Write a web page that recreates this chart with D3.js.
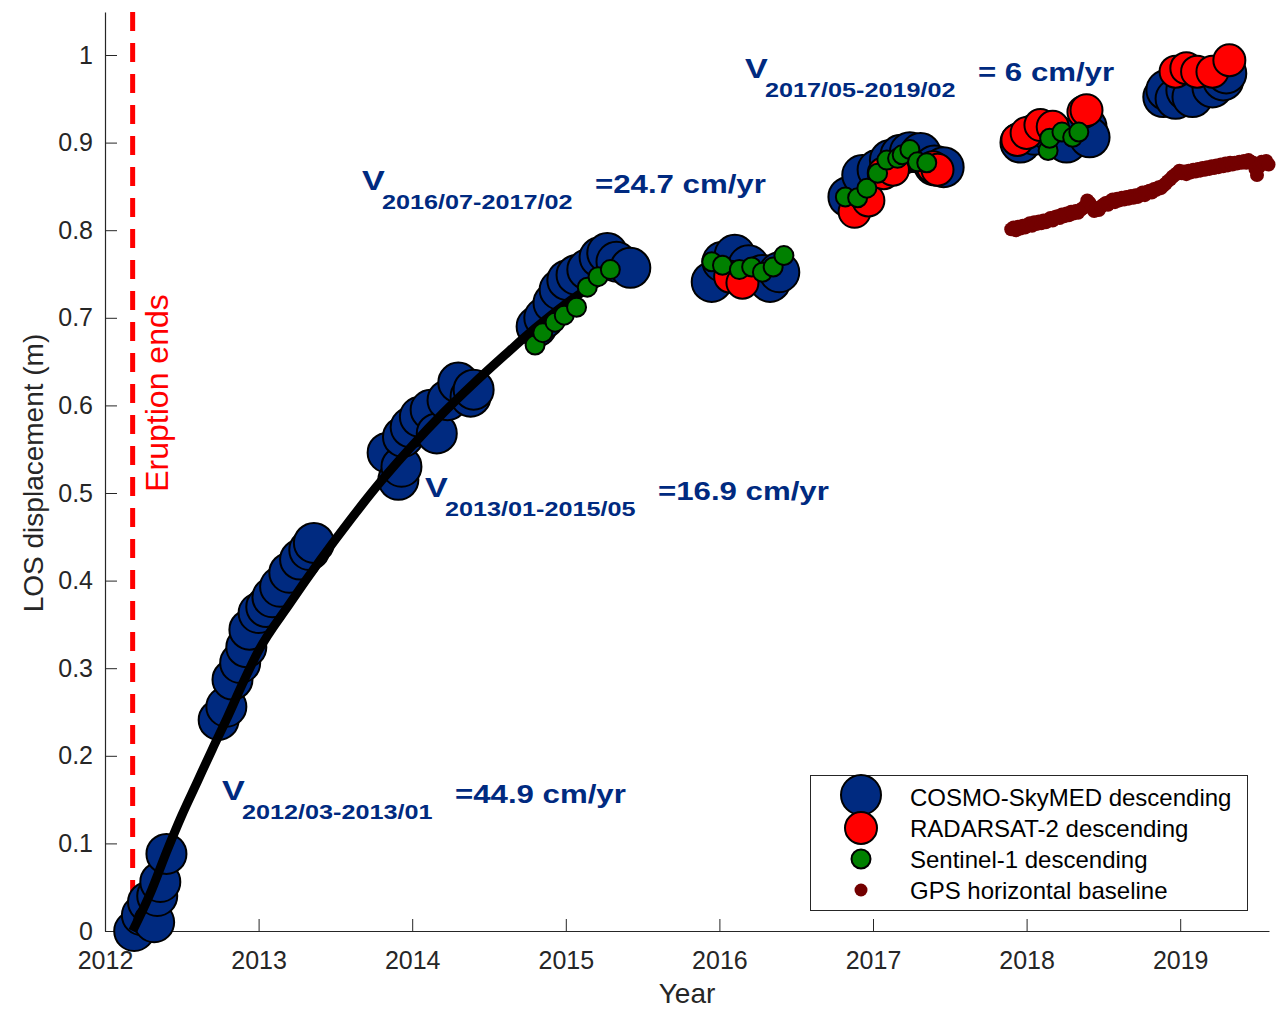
<!DOCTYPE html>
<html>
<head>
<meta charset="utf-8">
<script src="https://cdn.jsdelivr.net/npm/d3@7"></script>
<style>
  html, body { margin: 0; padding: 0; background: #fff; }
  svg { display: block; font-family: "Liberation Sans", Arial, Helvetica, sans-serif; }
</style>
</head>
<body>
<svg id="chart" width="1276" height="1011"></svg>
<script>
// ---------------- DATA ----------------
const xTicks = [2012, 2013, 2014, 2015, 2016, 2017, 2018, 2019];
const yTicks = [0, 0.1, 0.2, 0.3, 0.4, 0.5, 0.6, 0.7, 0.8, 0.9, 1];

const eruptionEndYear = 2012.18;

const cosmoYear = [
  2012.19, 2012.24, 2012.28, 2012.32, 2012.34, 2012.36, 2012.40,
  2012.74, 2012.79, 2012.83, 2012.88, 2012.92, 2012.94, 2013.00, 2013.05, 2013.09, 2013.14, 2013.20, 2013.27, 2013.33, 2013.36,
  2013.84, 2013.91, 2013.93, 2013.94, 2013.99, 2014.05, 2014.12, 2014.16, 2014.23, 2014.30, 2014.38, 2014.40,
  2014.81, 2014.86, 2014.92, 2014.96, 2015.01, 2015.07, 2015.14, 2015.22, 2015.27, 2015.33, 2015.42,
  2015.95, 2016.02, 2016.10, 2016.19, 2016.28, 2016.33, 2016.39,
  2016.84, 2016.93, 2017.03, 2017.11, 2017.18, 2017.24, 2017.31, 2017.40, 2017.46,
  2017.96, 2018.05, 2018.17, 2018.26, 2018.39, 2018.41,
  2018.89, 2018.91, 2018.97, 2019.04, 2019.08, 2019.21, 2019.28, 2019.30
];
const cosmoDisp = [
  0.000, 0.018, 0.033, 0.010, 0.040, 0.056, 0.088,
  0.241, 0.256, 0.287, 0.306, 0.324, 0.344, 0.363, 0.370, 0.381, 0.393, 0.409, 0.424, 0.435, 0.443,
  0.546, 0.515, 0.530, 0.564, 0.575, 0.587, 0.595, 0.568, 0.606, 0.626, 0.610, 0.618,
  0.690, 0.700, 0.717, 0.732, 0.743, 0.749, 0.755, 0.769, 0.774, 0.764, 0.757,
  0.741, 0.764, 0.772, 0.760, 0.749, 0.741, 0.752,
  0.838, 0.863, 0.869, 0.880, 0.886, 0.889, 0.888, 0.874, 0.872,
  0.900, 0.909, 0.911, 0.900, 0.918, 0.906,
  0.952, 0.960, 0.950, 0.960, 0.952, 0.963, 0.971, 0.979
];

const radarsatYear = [
  2016.07, 2016.15,
  2016.88, 2016.97, 2017.07, 2017.13, 2017.39, 2017.42,
  2017.94, 2018.00, 2018.09, 2018.17, 2018.37, 2018.39,
  2018.97, 2019.04, 2019.11, 2019.21, 2019.32
];
const radarsatDisp = [
  0.747, 0.740,
  0.821, 0.834, 0.865, 0.869, 0.872, 0.869,
  0.903, 0.911, 0.920, 0.918, 0.935, 0.937,
  0.981, 0.985, 0.981, 0.981, 0.994
];

const sentinelYear = [
  2014.80, 2014.85, 2014.93, 2014.99, 2015.07, 2015.14, 2015.21, 2015.29,
  2015.95, 2016.02, 2016.13, 2016.21, 2016.28, 2016.35, 2016.42,
  2016.82, 2016.90, 2016.96, 2017.03, 2017.09, 2017.16, 2017.19, 2017.24, 2017.29, 2017.35,
  2018.14, 2018.15, 2018.23, 2018.30, 2018.34
];
const sentinelDisp = [
  0.669, 0.683, 0.695, 0.703, 0.712, 0.735, 0.747, 0.755,
  0.764, 0.760, 0.755, 0.758, 0.752, 0.758, 0.771,
  0.838, 0.837, 0.848, 0.865, 0.880, 0.882, 0.886, 0.892, 0.878, 0.877,
  0.891, 0.905, 0.912, 0.906, 0.912
];

const gpsYear = [
  2017.900, 2017.915, 2017.930, 2017.945, 2017.960, 2017.975, 2017.990, 2018.005, 2018.020, 2018.035,
  2018.050, 2018.065, 2018.080, 2018.095, 2018.110, 2018.125, 2018.140, 2018.155, 2018.170, 2018.185,
  2018.200, 2018.215, 2018.230, 2018.245, 2018.260, 2018.275, 2018.290, 2018.305, 2018.320, 2018.335,
  2018.350, 2018.365, 2018.380, 2018.395, 2018.410, 2018.425, 2018.440, 2018.455, 2018.470, 2018.485,
  2018.500, 2018.515, 2018.530, 2018.545, 2018.560, 2018.575, 2018.590, 2018.605, 2018.620, 2018.635,
  2018.650, 2018.665, 2018.680, 2018.695, 2018.710, 2018.725, 2018.740, 2018.755, 2018.770, 2018.785,
  2018.800, 2018.815, 2018.830, 2018.845, 2018.860, 2018.875, 2018.890, 2018.905, 2018.920, 2018.935,
  2018.950, 2018.965, 2018.980, 2018.995, 2019.010, 2019.025, 2019.040, 2019.055, 2019.070, 2019.085,
  2019.100, 2019.115, 2019.130, 2019.145, 2019.160, 2019.175, 2019.190, 2019.205, 2019.220, 2019.235,
  2019.250, 2019.265, 2019.280, 2019.295, 2019.310, 2019.325, 2019.340, 2019.355, 2019.370, 2019.385,
  2019.400, 2019.415, 2019.430, 2019.445, 2019.460, 2019.475, 2019.490, 2019.500, 2019.515, 2019.530,
  2019.545, 2019.560, 2019.575
];
const gpsDisp = [
  0.801, 0.803, 0.800, 0.804, 0.802, 0.805, 0.803, 0.806, 0.808, 0.805,
  0.809, 0.807, 0.810, 0.808, 0.811, 0.809, 0.812, 0.814, 0.811, 0.815,
  0.816, 0.814, 0.818, 0.816, 0.819, 0.817, 0.821, 0.819, 0.822, 0.820,
  0.823, 0.825, 0.827, 0.834, 0.831, 0.826, 0.822, 0.825, 0.823, 0.827,
  0.829, 0.831, 0.829, 0.833, 0.835, 0.832, 0.836, 0.834, 0.837, 0.835,
  0.838, 0.836, 0.839, 0.837, 0.840, 0.838, 0.841, 0.843, 0.840, 0.844,
  0.845, 0.843, 0.847, 0.846, 0.849, 0.848, 0.851, 0.853, 0.856, 0.858,
  0.861, 0.863, 0.865, 0.868, 0.865, 0.867, 0.864, 0.868, 0.866, 0.869,
  0.867, 0.870, 0.868, 0.871, 0.869, 0.872, 0.870, 0.873, 0.871, 0.874,
  0.872, 0.875, 0.873, 0.876, 0.874, 0.877, 0.875, 0.877, 0.876, 0.878,
  0.877, 0.879, 0.877, 0.880, 0.878, 0.877, 0.870, 0.863, 0.873, 0.878,
  0.876, 0.879, 0.875
];

const fitYear = [2012.18, 2012.30, 2012.40, 2012.50, 2012.60, 2012.70, 2012.80, 2012.90, 2013.00, 2013.20,
                 2013.40, 2013.60, 2013.80, 2014.00, 2014.20, 2014.40, 2014.60, 2014.80, 2015.00, 2015.20];
const fitDisp = [0.000, 0.045, 0.090, 0.132, 0.170, 0.208, 0.245, 0.284, 0.320, 0.373,
                 0.423, 0.470, 0.514, 0.554, 0.591, 0.625, 0.657, 0.688, 0.716, 0.740];

const legendLabels = ["COSMO-SkyMED descending", "RADARSAT-2 descending", "Sentinel-1 descending", "GPS horizontal baseline"];

const velPeriods = ["2012/03-2013/01", "2013/01-2015/05", "2016/07-2017/02", "2017/05-2019/02"];
const velValues = ["=44.9 cm/yr", "=16.9 cm/yr", "=24.7 cm/yr", "= 6 cm/yr"];

// ---------------- LAYOUT ----------------
const svg = d3.select("#chart");
const axisColor = "#262626";
const navy = "#002a80";
const x = d3.scaleLinear().domain([2012, 2012 + (1269 - 105) / 153.6]).range([105, 1269]);
const y = d3.scaleLinear().domain([0, (931 - 12) / 876]).range([931, 12]);

// axes
const xAxis = svg.append("g").attr("transform", `translate(0,${y(0)})`)
  .call(d3.axisBottom(x).tickValues(xTicks).tickFormat(d3.format("d")).tickSizeInner(-12).tickSizeOuter(0).tickPadding(20));
const yAxis = svg.append("g").attr("transform", `translate(${x(2012)},0)`)
  .call(d3.axisLeft(y).tickValues(yTicks).tickFormat(d => d === 0 ? "0" : d === 1 ? "1" : d3.format(".1f")(d)).tickSizeInner(-12).tickSizeOuter(0).tickPadding(12));
[xAxis, yAxis].forEach(a => {
  a.select(".domain").attr("stroke", axisColor).attr("stroke-width", 1.2);
  a.selectAll(".tick line").attr("stroke", axisColor).attr("stroke-width", 1);
  a.selectAll(".tick text").attr("fill", axisColor).attr("font-size", 25).attr("font-family", "Liberation Sans, Arial, sans-serif");
});

// axis titles
svg.append("text").attr("x", 687).attr("y", 1003).attr("text-anchor", "middle")
  .attr("font-size", 28).attr("fill", axisColor).text("Year");
svg.append("text").attr("transform", `translate(43,${473}) rotate(-90)`).attr("text-anchor", "middle")
  .attr("font-size", 28).attr("fill", axisColor).text("LOS displacement (m)");

// eruption line
svg.append("line").attr("x1", x(eruptionEndYear)).attr("x2", x(eruptionEndYear))
  .attr("y1", y(y.domain()[1])).attr("y2", y(0))
  .attr("stroke", "#ff0000").attr("stroke-width", 5).attr("stroke-dasharray", "19,12");
svg.append("text").attr("transform", `translate(${x(eruptionEndYear) + 35},${393}) rotate(-90)`)
  .attr("text-anchor", "middle").attr("font-size", 32).attr("fill", "#ff0000").text("Eruption ends");

// series
function pts(xs, ys) { return xs.map((v, i) => ({ t: v, d: ys[i] })); }

const gCosmo = svg.append("g");
gCosmo.selectAll("circle").data(pts(cosmoYear, cosmoDisp)).join("circle")
  .attr("cx", p => x(p.t)).attr("cy", p => y(p.d)).attr("r", 20)
  .attr("fill", navy).attr("stroke", "#000").attr("stroke-width", 2);

const gRadar = svg.append("g");
gRadar.selectAll("circle").data(pts(radarsatYear, radarsatDisp)).join("circle")
  .attr("cx", p => x(p.t)).attr("cy", p => y(p.d)).attr("r", 16)
  .attr("fill", "#ff0000").attr("stroke", "#000").attr("stroke-width", 2);

svg.append("path").datum(pts(fitYear, fitDisp))
  .attr("d", d3.line().x(p => x(p.t)).y(p => y(p.d)).curve(d3.curveMonotoneX))
  .attr("fill", "none").attr("stroke", "#000").attr("stroke-width", 9).attr("stroke-linecap", "butt");

const gSent = svg.append("g");
gSent.selectAll("circle").data(pts(sentinelYear, sentinelDisp)).join("circle")
  .attr("cx", p => x(p.t)).attr("cy", p => y(p.d)).attr("r", 9.5)
  .attr("fill", "#008000").attr("stroke", "#000").attr("stroke-width", 2);

const gGps = svg.append("g");
gGps.selectAll("circle").data(pts(gpsYear, gpsDisp)).join("circle")
  .attr("cx", p => x(p.t)).attr("cy", p => y(p.d)).attr("r", 7)
  .attr("fill", "#730000");

// velocity annotations (anchor of the "V")
const annAnchor = [[222, 800], [425, 497], [362, 190], [745, 78]];
velPeriods.forEach((per, i) => {
  const [ax, ay] = annAnchor[i];
  const g = svg.append("g").attr("fill", navy).attr("font-weight", "bold");
  g.append("text").attr("transform", `translate(${ax},${ay}) scale(1.22,1)`).attr("font-size", 28).text("V");
  g.append("text").attr("transform", `translate(${ax + 20},${ay + 19}) scale(1.2,1)`).attr("font-size", 21).text(per);
  g.append("text").attr("transform", `translate(${ax + 233},${ay + 3}) scale(1.2,1)`).attr("font-size", 26).text(velValues[i]);
});

// legend
const lg = svg.append("g");
lg.append("rect").attr("x", 810.5).attr("y", 775.5).attr("width", 437).attr("height", 135)
  .attr("fill", "#fff").attr("stroke", axisColor).attr("stroke-width", 1);
const legendStyle = [
  { r: 20, fill: navy, stroke: "#000" },
  { r: 16, fill: "#ff0000", stroke: "#000" },
  { r: 9.5, fill: "#008000", stroke: "#000" },
  { r: 6.5, fill: "#730000", stroke: "none" }
];
legendLabels.forEach((lab, i) => {
  const cy = 797 + i * 31;
  const s = legendStyle[i];
  lg.append("circle").attr("cx", 861).attr("cy", cy - (i === 0 ? 2 : 0)).attr("r", s.r)
    .attr("fill", s.fill).attr("stroke", s.stroke).attr("stroke-width", 2);
  lg.append("text").attr("x", 910).attr("y", cy + 9).attr("font-size", 24).attr("fill", "#000").text(lab);
});
</script>
</body>
</html>
